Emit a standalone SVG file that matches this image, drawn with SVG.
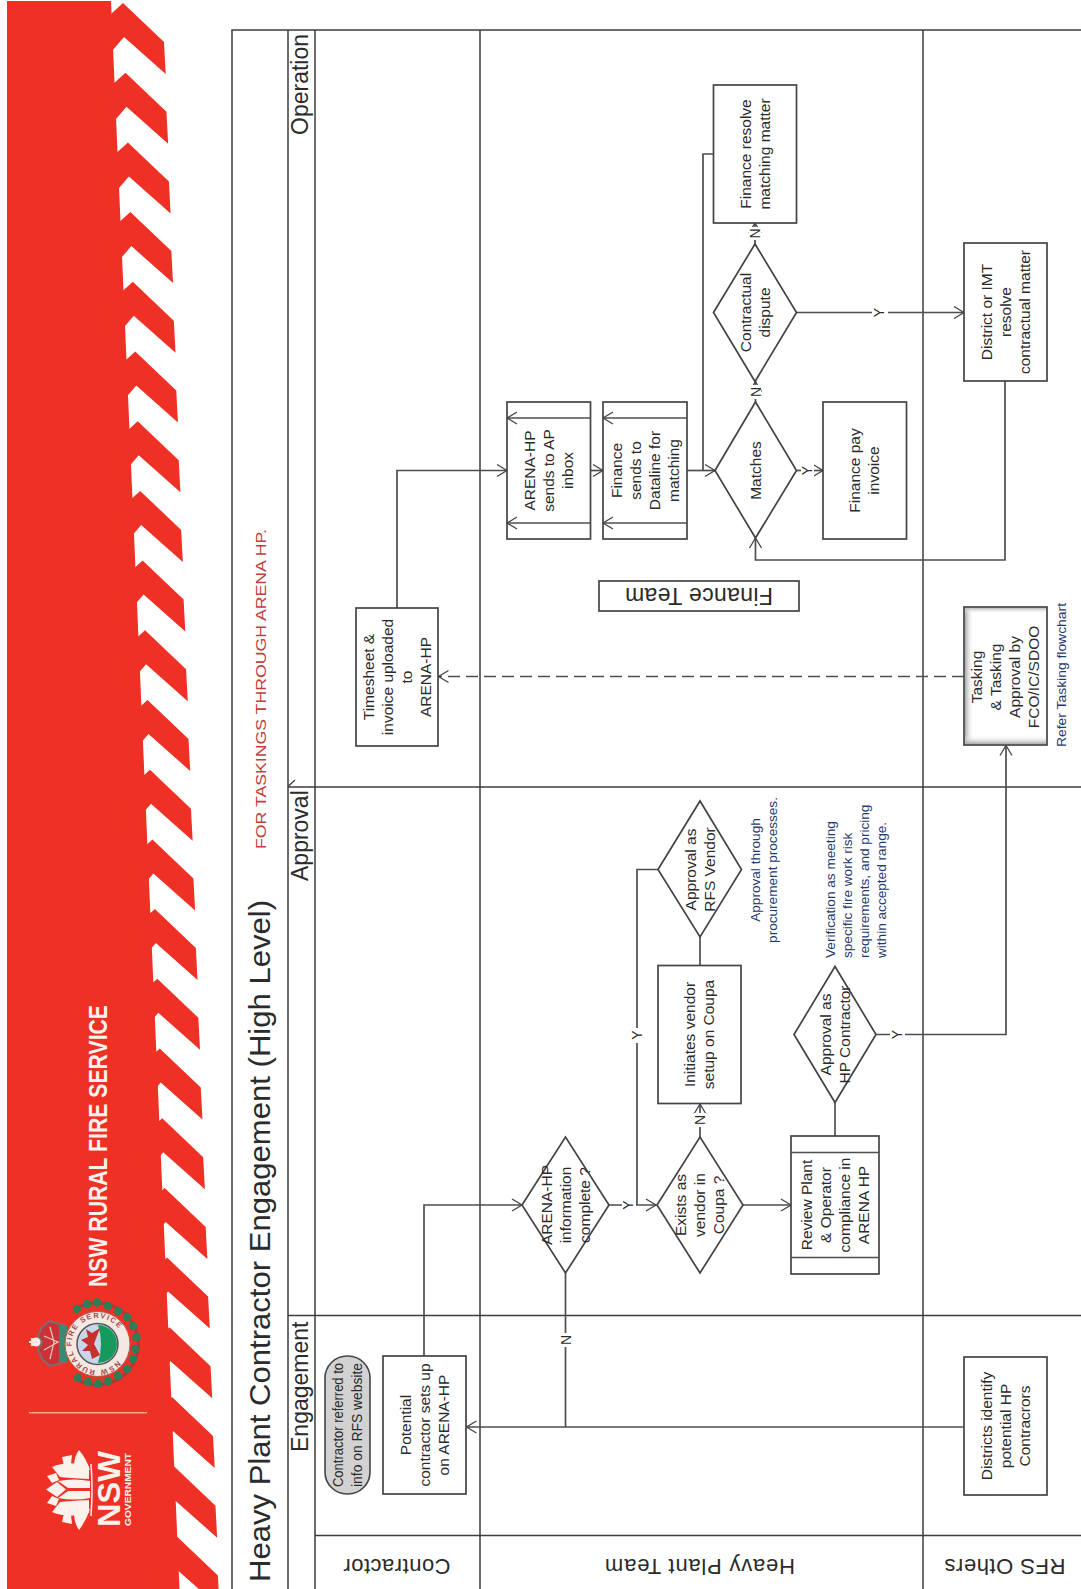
<svg xmlns="http://www.w3.org/2000/svg" xmlns:xlink="http://www.w3.org/1999/xlink" width="1081" height="1589" viewBox="0 0 1081 1589">
<style>
text{font-family:"Liberation Sans",Arial,sans-serif;fill:#2b2b2b}
.t{font-size:15.5px;text-anchor:middle}
.b{fill:#fff;stroke:#444;stroke-width:1.7}
.l{fill:none;stroke:#3c3c3c;stroke-width:1.5}
.c{fill:none;stroke:#4e4e4e;stroke-width:1.7}
.a{marker-end:url(#arr)}
.yn{font-size:14px;text-anchor:middle}
.gap{fill:#fff;stroke:none}
.note{font-size:13.6px;fill:#1f3a70}
.ph{font-size:23px}
.lane{font-size:22px;text-anchor:middle}
.w{fill:#fdf1ec}
</style>
<defs>
<marker id="arr" viewBox="-12 -8 14 16" refX="0" refY="0" markerWidth="14" markerHeight="16" markerUnits="userSpaceOnUse" orient="auto"><path d="M-10,-6 L0,0 L-10,6" fill="none" stroke="#444" stroke-width="1.3"/></marker>
<polygon id="st" points="100,24 123,3 164,42 165.7,74 124,37 100,65" fill="#ee3124"/>
<linearGradient id="gl" x1="0" x2="1" y1="0" y2="0"><stop offset="0" stop-color="#aaa"/><stop offset="1" stop-color="#fff" stop-opacity="0"/></linearGradient>
<linearGradient id="gb" x1="0" x2="0" y1="1" y2="0"><stop offset="0" stop-color="#aaa"/><stop offset="1" stop-color="#fff" stop-opacity="0"/></linearGradient>
<linearGradient id="gt" x1="0" x2="0" y1="0" y2="1"><stop offset="0" stop-color="#bbb"/><stop offset="1" stop-color="#fff" stop-opacity="0"/></linearGradient>
</defs>
<rect width="1081" height="1589" fill="#fff"/>
<g id="banner">
<polygon points="7,1 111,1 179.5,1589 7,1589" fill="#ee3124"/>
<use href="#st"/>
<use href="#st" transform="translate(2.45 69.7)"/>
<use href="#st" transform="translate(4.9 139.4)"/>
<use href="#st" transform="translate(7.35 209.1)"/>
<use href="#st" transform="translate(9.8 278.8)"/>
<use href="#st" transform="translate(12.25 348.5)"/>
<use href="#st" transform="translate(14.7 418.2)"/>
<use href="#st" transform="translate(17.15 487.9)"/>
<use href="#st" transform="translate(19.6 557.6)"/>
<use href="#st" transform="translate(22.05 627.3)"/>
<use href="#st" transform="translate(24.5 697)"/>
<use href="#st" transform="translate(26.95 766.7)"/>
<use href="#st" transform="translate(29.4 836.4)"/>
<use href="#st" transform="translate(31.85 906.1)"/>
<use href="#st" transform="translate(34.3 975.8)"/>
<use href="#st" transform="translate(36.75 1045.5)"/>
<use href="#st" transform="translate(39.2 1115.2)"/>
<use href="#st" transform="translate(41.65 1184.9)"/>
<use href="#st" transform="translate(44.1 1254.6)"/>
<use href="#st" transform="translate(46.55 1324.3)"/>
<use href="#st" transform="translate(49 1394)"/>
<use href="#st" transform="translate(51.45 1463.7)"/>
<use href="#st" transform="translate(53.9 1533.4)"/>
<text transform="translate(107 1287) rotate(-90)" font-size="25" font-weight="700" style="fill:#fdf1ec" textLength="282" lengthAdjust="spacingAndGlyphs">NSW RURAL FIRE SERVICE</text>
<line x1="29" y1="1412.7" x2="147" y2="1412.7" stroke="#f9a58f" stroke-width="1.5"/>
<g id="nsw-logo">
<path class="w" d="M74 1467Q74 1456 79 1450Q86 1458 90 1470Z"/>
<path class="w" d="M74 1512Q74 1523 79 1530Q86 1521 90 1509Z"/>
<path class="w" d="M62 1457L72 1455L71 1464L64 1466Z"/>
<path class="w" d="M62 1522L72 1524L71 1515L64 1513Z"/>
<path class="w" d="M47 1476L56 1473L59 1480L52 1483Z"/>
<path class="w" d="M47 1503L56 1506L59 1499L52 1496Z"/>
<path class="w" d="M46 1489.5L57 1482L66 1489.5L57 1497Z"/>
<path class="w" d="M52 1467Q68 1460 89 1466L89 1479Q68 1478 60 1477Z"/>
<path class="w" d="M52 1512Q68 1519 89 1513L89 1500Q68 1501 60 1502Z"/>
<path class="w" d="M58 1481Q74 1478 90 1481L90 1488L68 1488Z"/>
<path class="w" d="M58 1498Q74 1501 90 1498L90 1491L68 1491Z"/>
<path d="M91 1464Q93 1489 91 1516" fill="none" stroke="#fdf1ec" stroke-width="1.5"/>
<text transform="translate(120 1527) rotate(-90)" font-size="31" font-weight="700" style="fill:#fdf1ec" textLength="76" lengthAdjust="spacingAndGlyphs">NSW</text>
<text transform="translate(131 1526) rotate(-90)" font-size="9.5" font-weight="700" style="fill:#fdf1ec" textLength="73" lengthAdjust="spacingAndGlyphs">GOVERNMENT</text>
</g>
<g id="rfs-emblem">
<path d="M76 1309A41 41 0 1 1 76 1379" fill="none" stroke="#a8383a" stroke-width="3"/>
<g fill="#2f7d57">
<circle cx="77" cy="1309" r="4.3"/><circle cx="87" cy="1304" r="4.3"/><circle cx="97" cy="1302.5" r="4.3"/><circle cx="108" cy="1306" r="4.3"/><circle cx="118" cy="1311" r="4.3"/><circle cx="127" cy="1317" r="4.3"/><circle cx="133" cy="1326" r="4.3"/><circle cx="136.5" cy="1337" r="4.3"/><circle cx="135" cy="1349" r="4.3"/><circle cx="133" cy="1359" r="4.3"/><circle cx="127" cy="1369" r="4.3"/><circle cx="118" cy="1376" r="4.3"/><circle cx="108" cy="1381" r="4.3"/><circle cx="98" cy="1384" r="4.3"/><circle cx="88" cy="1382" r="4.3"/><circle cx="78" cy="1378" r="4.3"/>
</g>
<path d="M66 1326L50 1321L42 1327L38 1336L42 1342L38 1350L42 1359L50 1366L66 1362Z" fill="#c93238" stroke="#7f6c72" stroke-width="2"/>
<path d="M50 1327L54 1342L50 1359M44 1336L58 1342L44 1350" fill="none" stroke="#ecc9bd" stroke-width="1.2"/>
<rect x="59" y="1326" width="8" height="36" fill="#3b8a73"/>
<circle cx="36" cy="1342" r="4.5" fill="#eef0ea"/>
<path d="M29 1342H37M32 1338V1346" stroke="#e8e8e0" stroke-width="2.2"/>
<circle cx="97.5" cy="1344" r="32.5" fill="#f4e9e2" stroke="#b05a50" stroke-width="1"/>
<circle cx="97.5" cy="1344" r="20.5" fill="#c9d6ea" stroke="#555" stroke-width="1.5"/>
<path d="M98 1325A19 19 0 0 1 98 1363Q104 1344 98 1325Z" fill="#159a5c"/>
<path d="M100 1328L92 1333L86 1329L88 1337L81 1340L88 1345L82 1351L90 1351L92 1359L100 1355L94 1344Z" fill="#c8302e"/>
<path id="ring" d="M117.6 1360.8A26 26 0 1 1 123 1338" fill="none"/>
<text font-size="7.5" font-weight="700" style="fill:#a8474a"><textPath href="#ring" textLength="128">NSW RURAL FIRE SERVICE</textPath></text>
</g>
</g>
<g id="frame" class="l">
<path d="M1081 30H232V1589M288 30V1589M315 30V1589M480 30V1589M923 30V1589M288 787H1081M288 1315.5H1081M315 1535.5H1081"/>
<path d="M295 780L288.5 786" stroke-width="1.2"/>
</g>
<g id="heading">
<text transform="translate(270 1582) rotate(-90)" font-size="30" textLength="682" lengthAdjust="spacingAndGlyphs">Heavy Plant Contractor Engagement (High Level)</text>
<text transform="translate(266 849) rotate(-90)" font-size="14.5" style="fill:#c0403a" textLength="320" lengthAdjust="spacingAndGlyphs">FOR TASKINGS THROUGH ARENA HP.</text>
<text class="ph" transform="translate(308 1452) rotate(-90)">Engagement</text>
<text class="ph" transform="translate(308 881) rotate(-90)">Approval</text>
<text class="ph" transform="translate(308 135) rotate(-90)">Operation</text>
<text class="lane" transform="translate(397 1559) rotate(180)" textLength="107" lengthAdjust="spacing">Contractor</text>
<text class="lane" transform="translate(700 1559) rotate(180)" textLength="190" lengthAdjust="spacing">Heavy Plant Team</text>
<text class="lane" transform="translate(1005 1559) rotate(180)" textLength="121" lengthAdjust="spacing">RFS Others</text>
</g>
<g id="connectors">
<path class="c a" d="M424 1356V1205H522"/>
<path class="c a" d="M609 1205H656"/>
<path class="c" d="M637 1205V869.5H658"/>
<path class="c a" d="M700 1137V1104"/>
<path class="c" d="M700 965V937"/>
<path class="c a" d="M743 1205H791"/>
<path class="c" d="M835 1136V1103"/>
<path class="c a" d="M876 1034.5H1006V745.5"/>
<path class="c a" d="M964 1427H466.5"/>
<path class="c" d="M565.5 1273V1427"/>
<path class="c a" d="M964 676.5H438.5" stroke-dasharray="12 6"/>
<path class="c a" d="M397 608V470.5H507"/>
<path class="c a" d="M590.5 470.5H603"/>
<path class="c a" d="M687 470.5H715"/>
<path class="c" d="M703 470.5V154H713.5"/>
<path class="c a" d="M796.5 470.5H823"/>
<path class="c a" d="M755.5 402V381.5"/>
<path class="c a" d="M755 244V223"/>
<path class="c a" d="M796.5 312.5H964"/>
<path class="c a" d="M1005 381V560H755.5V538"/>
</g>
<g id="edge-labels">
<rect class="gap" x="622" y="1198" width="14" height="14"/><text class="yn" transform="translate(633 1205) rotate(-90)">Y</text>
<rect class="gap" x="631" y="1028" width="12" height="15"/><text class="yn" transform="translate(642 1035) rotate(-90)">Y</text>
<rect class="gap" x="694" y="1113" width="12" height="14"/><text class="yn" transform="translate(705 1120) rotate(-90)">N</text>
<rect class="gap" x="890" y="1027" width="15" height="15"/><text class="yn" transform="translate(902 1034.5) rotate(-90)">Y</text>
<rect class="gap" x="749" y="385" width="12" height="14"/><text class="yn" transform="translate(760.5 392) rotate(-90)">N</text>
<rect class="gap" x="749" y="227" width="12" height="13"/><text class="yn" transform="translate(760 233.5) rotate(-90)">N</text>
<rect class="gap" x="872" y="305" width="16" height="15"/><text class="yn" transform="translate(884 312.5) rotate(-90)">Y</text>
<rect class="gap" x="801" y="463" width="13" height="15"/><text class="yn" transform="translate(812 470.5) rotate(-90)">Y</text>
<rect class="gap" x="559" y="1333" width="13" height="14"/><text class="yn" transform="translate(571 1340) rotate(-90)">N</text>
</g>
<g id="n-referred"><rect x="325" y="1356" width="45" height="138" rx="22" fill="#d2d2d2" stroke="#444" stroke-width="1.6"/>
<text class="t" style="font-size:14px" transform="translate(347.5 1425) rotate(-90)"><tspan x="0" y="-4.5" textLength="124" lengthAdjust="spacingAndGlyphs">Contractor referred to</tspan><tspan x="0" y="14.5" textLength="124" lengthAdjust="spacingAndGlyphs">info on RFS website</tspan></text></g>
<g id="n-potential"><rect class="b" x="383" y="1356" width="83" height="138"/>
<text class="t" transform="translate(424.5 1425) rotate(-90)"><tspan x="0" y="-14">Potential</tspan><tspan x="0" y="5">contractor sets up</tspan><tspan x="0" y="24">on ARENA-HP</tspan></text></g>
<g id="n-districts"><rect class="b" x="964" y="1357" width="83" height="138"/>
<text class="t" transform="translate(1005.5 1426) rotate(-90)"><tspan x="0" y="-14">Districts identify</tspan><tspan x="0" y="5">potential HP</tspan><tspan x="0" y="24">Contracrors</tspan></text></g>
<g id="n-arena-complete"><polygon class="b" points="522,1205 565.5,1137 609,1205 565.5,1273"/>
<text class="t" transform="translate(565.5 1205) rotate(-90)"><tspan x="0" y="-14">ARENA-HP</tspan><tspan x="0" y="5">information</tspan><tspan x="0" y="24">complete ?</tspan></text></g>
<g id="n-exists"><polygon class="b" points="657,1205 700,1137 743,1205 700,1273"/>
<text class="t" transform="translate(700 1205) rotate(-90)"><tspan x="0" y="-14">Exists as</tspan><tspan x="0" y="5">vendor in</tspan><tspan x="0" y="24">Coupa ?</tspan></text></g>
<g id="n-review"><rect class="b" x="791" y="1136" width="88" height="138"/><path class="c" d="M791 1152.5H879M791 1257.5H879"/>
<text class="t" transform="translate(835 1205) rotate(-90)"><tspan x="0" y="-23.5">Review Plant</tspan><tspan x="0" y="-4.5">&amp; Operator</tspan><tspan x="0" y="14.5">compliance in</tspan><tspan x="0" y="33.5">ARENA HP</tspan></text></g>
<g id="n-initiates"><rect class="b" x="658" y="965.5" width="83" height="138"/>
<text class="t" transform="translate(699.5 1034.5) rotate(-90)"><tspan x="0" y="-4.5">Initiates vendor</tspan><tspan x="0" y="14.5">setup on Coupa</tspan></text></g>
<g id="n-rfs-vendor"><polygon class="b" points="658,869.5 700,801 741.5,869.5 700,937"/>
<text class="t" transform="translate(700 869.5) rotate(-90)"><tspan x="0" y="-4.5">Approval as</tspan><tspan x="0" y="14.5">RFS Vendor</tspan></text></g>
<g id="n-hp-contractor"><polygon class="b" points="794,1034.5 835,966.5 876,1034.5 835,1102.5"/>
<text class="t" transform="translate(835 1034.5) rotate(-90)"><tspan x="0" y="-4.5">Approval as</tspan><tspan x="0" y="14.5">HP Contractor</tspan></text></g>
<g id="n-tasking"><rect class="b" x="964" y="607" width="83" height="138"/>
<rect x="965" y="608" width="9" height="136" fill="url(#gl)"/><rect x="965" y="735" width="81" height="9" fill="url(#gb)"/><rect x="965" y="608" width="81" height="6" fill="url(#gt)"/>
<text class="t" transform="translate(1005.5 677) rotate(-90)"><tspan x="0" y="-23.5">Tasking</tspan><tspan x="0" y="-4.5">&amp; Tasking</tspan><tspan x="0" y="14.5">Approval by</tspan><tspan x="0" y="33.5">FCO/IC/SDOO</tspan></text></g>
<g id="n-timesheet"><rect class="b" x="356" y="608" width="82" height="138"/>
<text class="t" transform="translate(397 677) rotate(-90)"><tspan x="0" y="-23.5">Timesheet &amp;</tspan><tspan x="0" y="-4.5">invoice uploaded</tspan><tspan x="0" y="14.5">to</tspan><tspan x="0" y="33.5">ARENA-HP</tspan></text></g>
<g id="n-ap-inbox"><rect class="b" x="507" y="402" width="83.5" height="137"/><path class="c a" d="M590.5 418H507"/><path class="c a" d="M590.5 523H507"/>
<text class="t" transform="translate(548.5 470.5) rotate(-90)"><tspan x="0" y="-14">ARENA-HP</tspan><tspan x="0" y="5">sends to AP</tspan><tspan x="0" y="24">inbox</tspan></text></g>
<g id="n-dataline"><rect class="b" x="603" y="402" width="84" height="137"/><path class="c a" d="M687 418H603"/><path class="c a" d="M687 523H603"/>
<text class="t" transform="translate(645 470.5) rotate(-90)"><tspan x="0" y="-23.5">Finance</tspan><tspan x="0" y="-4.5">sends to</tspan><tspan x="0" y="14.5">Dataline for</tspan><tspan x="0" y="33.5">matching</tspan></text></g>
<g id="n-matches"><polygon class="b" points="715,470.5 755.5,402 796.5,470.5 755.5,538"/>
<text class="t" transform="translate(755.5 470.5) rotate(-90)"><tspan x="0" y="5">Matches</tspan></text></g>
<g id="n-finance-pay"><rect class="b" x="823" y="402" width="83.5" height="137"/>
<text class="t" transform="translate(864.5 470.5) rotate(-90)"><tspan x="0" y="-4.5">Finance pay</tspan><tspan x="0" y="14.5">invoice</tspan></text></g>
<g id="n-dispute"><polygon class="b" points="713.5,312.5 755,244 796.5,312.5 755,381.5"/>
<text class="t" transform="translate(755 312.5) rotate(-90)"><tspan x="0" y="-4.5">Contractual</tspan><tspan x="0" y="14.5">dispute</tspan></text></g>
<g id="n-finance-resolve"><rect class="b" x="713.5" y="85" width="83" height="138"/>
<text class="t" transform="translate(755 154) rotate(-90)"><tspan x="0" y="-4.5">Finance resolve</tspan><tspan x="0" y="14.5">matching matter</tspan></text></g>
<g id="n-district-imt"><rect class="b" x="964" y="243" width="83" height="138"/>
<text class="t" transform="translate(1005.5 312) rotate(-90)"><tspan x="0" y="-14">District or IMT</tspan><tspan x="0" y="5">resolve</tspan><tspan x="0" y="24">contractual matter</tspan></text></g>
<g id="n-finance-team"><rect class="b" x="599" y="581" width="200" height="30"/>
<text text-anchor="middle" font-size="23" textLength="148" lengthAdjust="spacing" transform="translate(699 588) rotate(180)">Finance Team</text></g>
<g id="notes">
<text class="note" text-anchor="middle" transform="translate(760 870) rotate(-90)">Approval through</text>
<text class="note" text-anchor="middle" transform="translate(777 870) rotate(-90)">procurement processes.</text>
<text class="note" transform="translate(835 958) rotate(-90)">Verification as meeting</text>
<text class="note" transform="translate(852 958) rotate(-90)">specific fire work risk</text>
<text class="note" transform="translate(869 958) rotate(-90)">requirements, and pricing</text>
<text class="note" transform="translate(886 958) rotate(-90)">within accepted range.</text>
<text class="note" style="font-size:12px" transform="translate(1066 747) rotate(-90)" textLength="144" lengthAdjust="spacingAndGlyphs">Refer Tasking flowchart</text>
</g>
</svg>
